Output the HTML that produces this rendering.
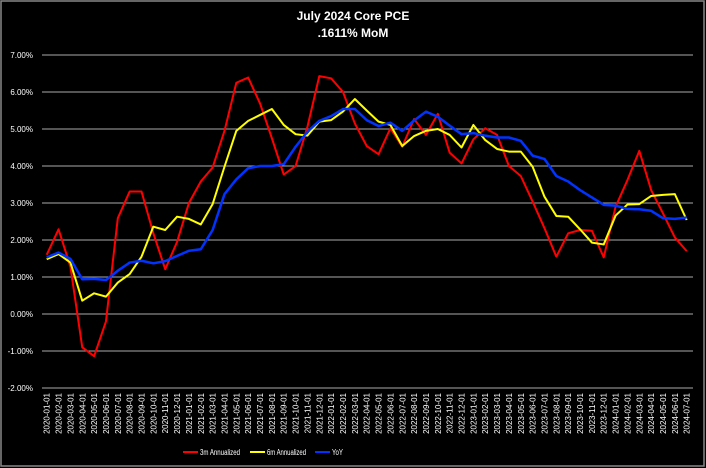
<!DOCTYPE html>
<html><head><meta charset="utf-8"><style>
body{margin:0;background:#000;}
svg{display:block;font-family:"Liberation Sans",sans-serif;}
</style></head><body>
<svg id="chart" width="706" height="468" viewBox="0 0 706 468">
<rect x="0" y="0" width="706" height="468" fill="#000"/>
<rect x="1" y="1" width="703" height="465" fill="none" stroke="#888" stroke-width="1.5"/>
<text x="353" y="20" text-anchor="middle" fill="#fff" font-weight="bold" font-size="12">July 2024 Core PCE</text>
<text x="353" y="37" text-anchor="middle" fill="#fff" font-weight="bold" font-size="12">.1611% MoM</text>
<g id="grid"></g><g id="yt"></g><g id="xt"></g><g id="series"></g>
<g font-size="8" fill="#fff">
<line x1="183" y1="452" x2="198" y2="452" stroke="#f00" stroke-width="2"/><text x="200" y="455" textLength="40" lengthAdjust="spacingAndGlyphs">3m Annualized</text>
<line x1="250" y1="452" x2="265" y2="452" stroke="#ff0" stroke-width="2"/><text x="267" y="455" textLength="39" lengthAdjust="spacingAndGlyphs">6m Annualized</text>
<line x1="315" y1="452" x2="330" y2="452" stroke="#0033ff" stroke-width="2"/><text x="332" y="455" textLength="11" lengthAdjust="spacingAndGlyphs">YoY</text>
</g>
</svg>
<script>
const yTicks=[-2,-1,0,1,2,3,4,5,6,7];
const red=[1.6,2.29,1.28,-0.9,-1.14,-0.2,2.59,3.31,3.31,2.18,1.21,1.95,3.0,3.58,3.96,4.95,6.25,6.39,5.69,4.75,3.77,4.0,5.06,6.43,6.37,6.0,5.15,4.54,4.32,5.02,4.52,5.27,4.84,5.41,4.36,4.07,4.72,5.02,4.84,4.0,3.73,3.04,2.32,1.55,2.18,2.27,2.25,1.53,2.9,3.62,4.41,3.35,2.72,2.07,1.70];
const yellow=[1.48,1.62,1.39,0.36,0.56,0.47,0.85,1.08,1.55,2.36,2.27,2.63,2.57,2.42,2.97,3.98,4.95,5.22,5.38,5.54,5.11,4.86,4.82,5.2,5.24,5.47,5.81,5.5,5.2,5.11,4.54,4.81,4.95,5.0,4.84,4.5,5.11,4.7,4.46,4.39,4.39,3.98,3.17,2.65,2.63,2.29,1.93,1.88,2.66,2.96,2.97,3.19,3.22,3.24,2.54];
const blue=[1.53,1.66,1.49,0.94,0.95,0.92,1.17,1.39,1.44,1.37,1.43,1.57,1.71,1.75,2.27,3.24,3.64,3.94,4.0,4.0,4.05,4.52,4.93,5.22,5.35,5.54,5.54,5.24,5.08,5.17,4.95,5.23,5.47,5.33,5.09,4.86,4.89,4.82,4.77,4.77,4.68,4.28,4.19,3.73,3.58,3.35,3.15,2.95,2.93,2.84,2.83,2.79,2.59,2.57,2.61];
const categories=[];
for(let y=2020;y<=2024;y++)for(let m=1;m<=12;m++){if(y===2024&&m>7)break;categories.push(y+'-'+String(m).padStart(2,'0')+'-01');}
const NS='http://www.w3.org/2000/svg';
const yS=v=>55+(7-v)*37;
const xS=i=>46.7+i*(640/(categories.length-1));
function mk(t,a,p){const e=document.createElementNS(NS,t);for(const k in a)e.setAttribute(k,a[k]);p.appendChild(e);return e;}
const grid=document.getElementById('grid'),yt=document.getElementById('yt'),xt=document.getElementById('xt'),ser=document.getElementById('series');
yTicks.forEach(v=>{
 const l=mk('line',{x1:42,x2:693,y1:yS(v),y2:yS(v),stroke:'#aaa','stroke-width':1},grid);
 
 
 const t=mk('text',{x:33,y:yS(v)+3,'text-anchor':'end',fill:'#fff','font-size':8},yt);
 
 
 t.textContent=v.toFixed(2)+'%';
});
categories.forEach((c,i)=>{
 const t=mk('text',{x:0,y:0,transform:'translate('+(xS(i)+3)+',393) rotate(-90)','text-anchor':'end',fill:'#fff','font-size':8},xt);
 
 
 t.textContent=c;
});
[[red,'#f00','series-3m-annualized'],[yellow,'#ff0','series-6m-annualized'],[blue,'#0033ff','series-yoy']].forEach(([d,c,n])=>{
 const p=mk('polyline',{points:d.map((v,i)=>xS(i)+','+yS(v)).join(' '),fill:'none',stroke:c,'stroke-width':n==='series-yoy'?2.5:2,'stroke-linejoin':'round'},ser);
 
 
});
</script>
</body></html>
